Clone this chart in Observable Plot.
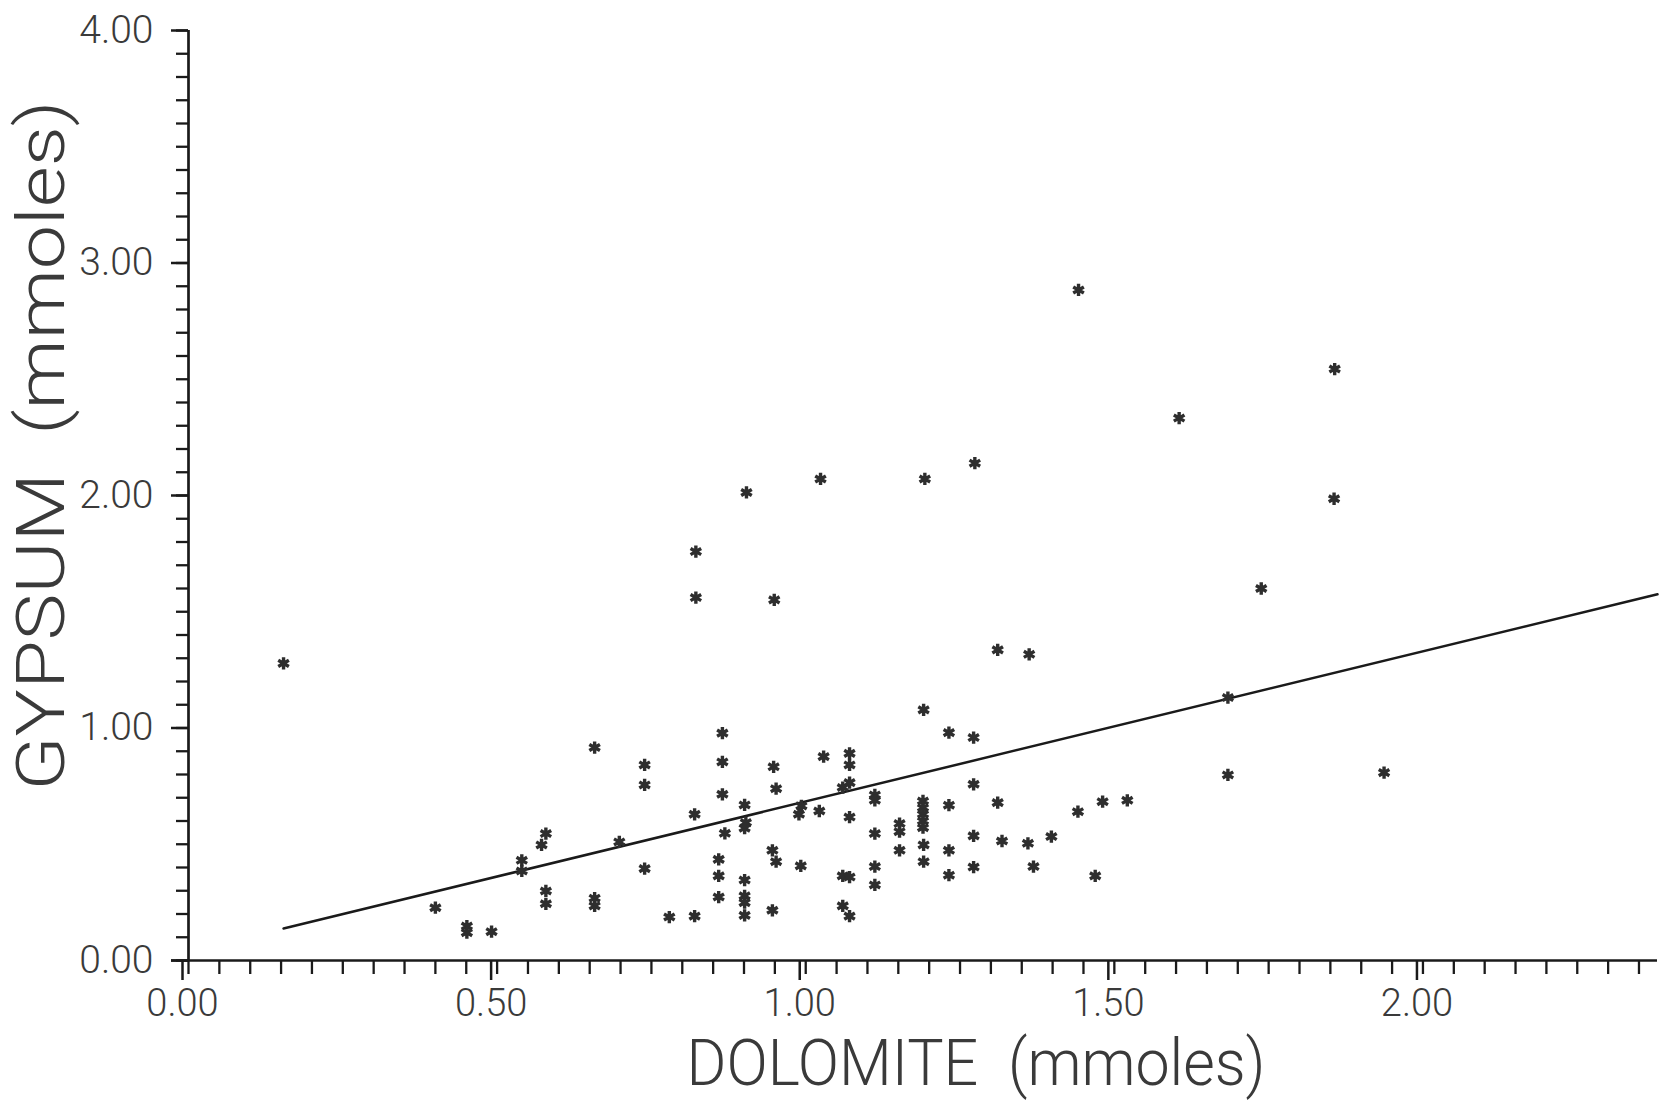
<!DOCTYPE html>
<html>
<head>
<meta charset="utf-8">
<script src="https://cdn.jsdelivr.net/npm/d3@7"></script>
<script src="https://cdn.jsdelivr.net/npm/@observablehq/plot@0.6"></script>
<style>
  html, body { margin: 0; padding: 0; background: #fff; }
  #chart svg { display: block; }
</style>
</head>
<body>
<div id="chart"></div>
<script>
// Dolomite (x, mmoles) vs Gypsum (y, mmoles) samples
const dolomite = [
  0.658, 0.579, 0.572, 0.540, 0.540, 0.698, 0.579, 0.579, 0.658, 0.658,
  0.400, 0.451, 0.451, 0.491,
  0.739, 0.739, 0.739, 0.779, 0.820, 0.820, 0.865, 0.865, 0.865, 0.869,
  0.859, 0.859, 0.859, 0.901, 0.903, 0.901, 0.901, 0.901, 0.901, 0.901,
  0.948, 0.952, 0.946, 0.952, 0.946, 0.992, 0.989, 0.993, 1.022, 1.029,
  1.071, 1.071, 1.071, 1.060, 1.071, 1.060, 1.071, 1.060, 1.071,
  1.112, 1.112, 1.112, 1.112, 1.112,
  1.311, 1.362, 1.191, 1.232, 1.272, 1.272, 1.190, 1.190, 1.190, 1.190, 1.190,
  1.152, 1.152, 1.152, 1.191, 1.191, 1.232, 1.232, 1.232, 1.272, 1.272,
  1.311, 1.318, 1.360, 1.369, 1.398, 1.441, 1.481, 1.521, 1.469,
  1.738, 1.684, 1.684, 1.937,
  0.822, 0.822, 0.904, 0.949, 1.024, 1.193, 1.274,
  1.442, 1.605, 1.857,
  0.154, 1.856
];
const gypsum = [
  0.916, 0.546, 0.497, 0.431, 0.385, 0.510, 0.299, 0.244, 0.268, 0.235,
  0.227, 0.148, 0.120, 0.124,
  0.841, 0.755, 0.395, 0.187, 0.191, 0.629, 0.978, 0.854, 0.715, 0.547,
  0.435, 0.364, 0.273, 0.669, 0.593, 0.569, 0.346, 0.278, 0.249, 0.194,
  0.833, 0.739, 0.474, 0.425, 0.216, 0.407, 0.629, 0.665, 0.643, 0.877,
  0.891, 0.841, 0.765, 0.744, 0.617, 0.364, 0.359, 0.235, 0.191,
  0.712, 0.689, 0.546, 0.404, 0.325,
  1.336, 1.317, 1.078, 0.980, 0.959, 0.758, 0.686, 0.657, 0.629, 0.600, 0.571,
  0.589, 0.554, 0.474, 0.497, 0.425, 0.668, 0.474, 0.367, 0.536, 0.402,
  0.679, 0.514, 0.504, 0.404, 0.533, 0.640, 0.683, 0.689, 0.364,
  1.600, 1.131, 0.798, 0.808,
  1.759, 1.561, 2.013, 1.551, 2.071, 2.071, 2.139,
  2.884, 2.333, 2.544,
  1.278, 1.986
];

// Fitted line
const fitSlope = 0.6455;
const fitIntercept = 0.0386;

// Axes
const xDomain = [0, 2.38];
const yDomain = [0, 4];
const xMajorTicks = [0, 0.5, 1.0, 1.5, 2.0];
const yMajorTicks = [0, 1, 2, 3, 4];
const xMinorStep = 0.05;
const yMinorStep = 0.1;
const xTitle = "DOLOMITE\u00a0\u00a0(mmoles)";
const yTitle = "GYPSUM\u00a0\u00a0(mmoles)";

const points = dolomite.map((d, i) => ({x: d, y: gypsum[i]}));
const xFitStart = d3.min(dolomite);
const fitLine = [xFitStart, xDomain[1]].map(x => ({x, y: fitIntercept + fitSlope * x}));
const xMinorTicks = d3.range(0, 2.3501, xMinorStep).map(v => +v.toFixed(2));
const yMinorTicks = d3.range(0, 4.0001, yMinorStep).map(v => +v.toFixed(2));

const ink = "#1a1a1a";
const textInk = "#3a3a3a";
const tickFont = "Roboto, 'Liberation Sans', sans-serif";
const titleFont = "Roboto, 'Liberation Sans', sans-serif";

const chart = Plot.plot({
  width: 1662,
  height: 1103,
  marginLeft: 188,
  marginRight: 5,
  marginTop: 30,
  marginBottom: 143,
  style: {background: "#fff", color: ink},
  x: {domain: xDomain, label: null},
  y: {domain: yDomain, label: null},
  marks: [
    // minor ticks
    Plot.axisX(xMinorTicks, {tickSize: 14, tickFormat: () => "", label: null, strokeWidth: 2.3, stroke: ink}),
    Plot.axisY(yMinorTicks, {tickSize: 12, tickFormat: () => "", label: null, strokeWidth: 2.3, stroke: ink}),
    // major ticks with labels
    Plot.axisX(xMajorTicks, {
      tickSize: 20, tickPadding: 9, strokeWidth: 2.5, stroke: ink, label: null,
      tickFormat: d3.format(".2f"), fontSize: 38, fontFamily: tickFont, fontWeight: 300,
      fill: textInk, dx: -6
    }),
    Plot.axisY(yMajorTicks, {
      tickSize: 17, tickPadding: 18, strokeWidth: 2.5, stroke: ink, label: null,
      tickFormat: d3.format(".2f"), fontSize: 39, fontFamily: tickFont, fontWeight: 300,
      fill: textInk
    }),
    // axis lines
    Plot.ruleY([0], {stroke: ink, strokeWidth: 2.7, insetLeft: -17}),
    Plot.ruleX([0], {stroke: ink, strokeWidth: 2.7}),
    // fitted line
    Plot.line(fitLine, {x: "x", y: "y", stroke: ink, strokeWidth: 2.5}),
    // data points
    Plot.dot(points, {x: "x", y: "y", symbol: "asterisk", r: 5.8, stroke: "#2e2e2e", strokeWidth: 3.4}),
    // titles
    Plot.text([xTitle], {
      text: d => d, frameAnchor: "bottom", dx: 53, dy: 124,
      textAnchor: "middle", lineAnchor: "bottom",
      fontSize: 65, fontFamily: titleFont, fontWeight: 300, fill: textInk
    }),
    Plot.text([yTitle], {
      text: d => d, frameAnchor: "left", dx: -146, dy: -50, rotate: -90,
      textAnchor: "middle", lineAnchor: "middle",
      fontSize: 67, fontFamily: titleFont, fontWeight: 300, fill: textInk
    })
  ]
});
// drop the empty labels of the minor-tick axes
d3.select(chart).selectAll("text")
  .filter(function() { return this.textContent === ""; })
  .remove();
// match the plotter lettering widths of the original titles
d3.select(chart).selectAll("text")
  .filter(function() { return this.textContent === xTitle; })
  .attr("textLength", 579).attr("lengthAdjust", "spacingAndGlyphs");
d3.select(chart).selectAll("text")
  .filter(function() { return this.textContent === yTitle; })
  .attr("textLength", 690).attr("lengthAdjust", "spacingAndGlyphs");
document.getElementById("chart").appendChild(chart);
</script>
</body>
</html>
